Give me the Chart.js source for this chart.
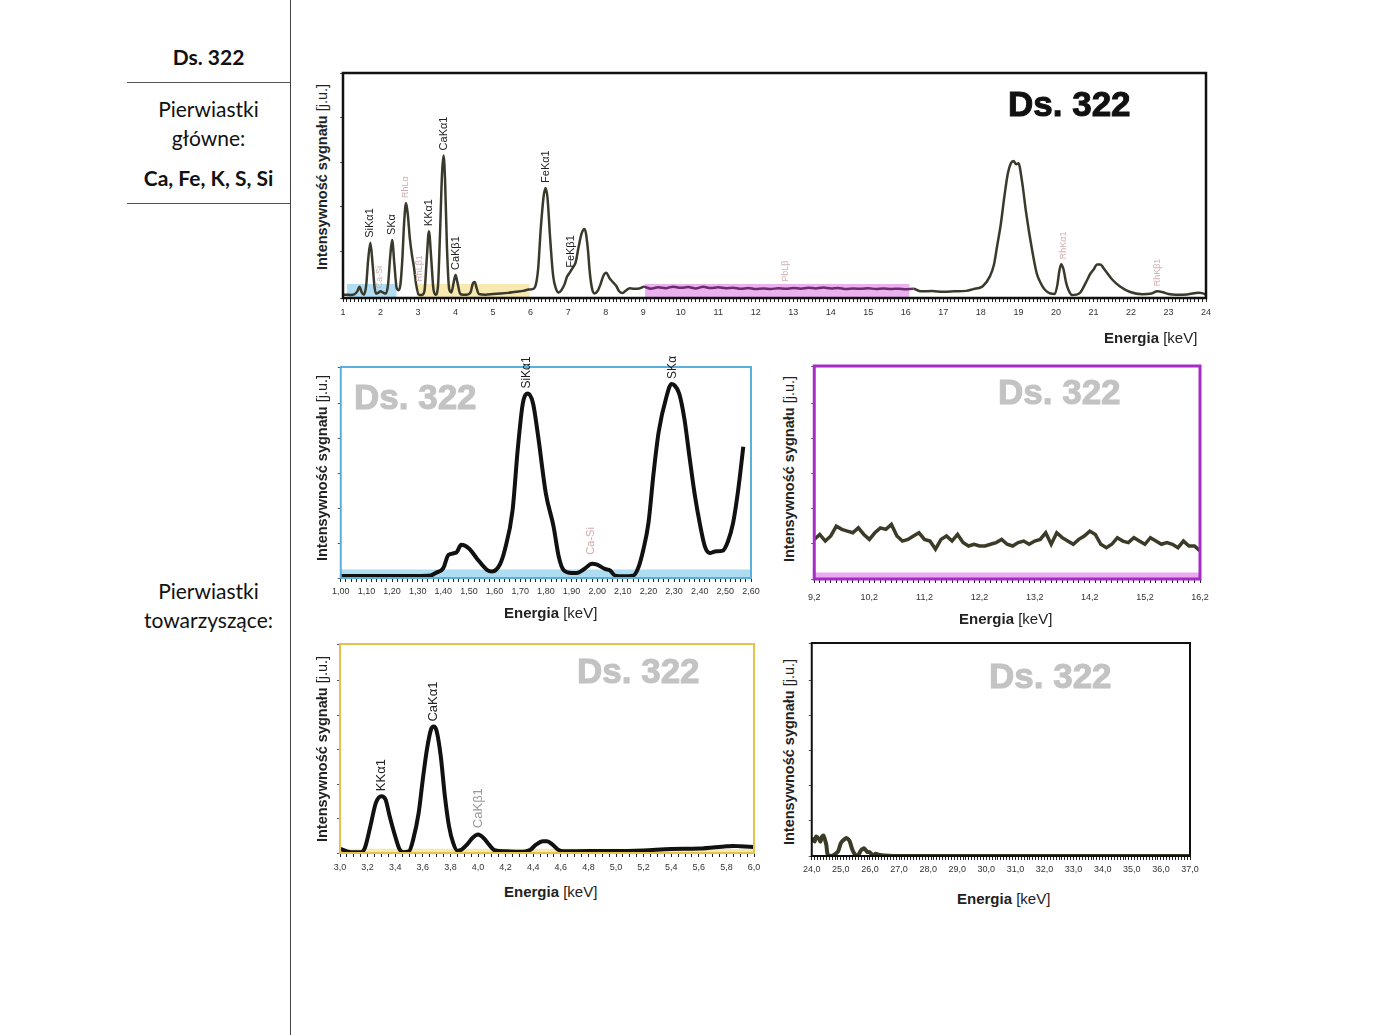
<!DOCTYPE html>
<html lang="pl">
<head>
<meta charset="utf-8">
<title>Ds. 322</title>
<script src="https://cdn.jsdelivr.net/npm/chart.js@4.4.1/dist/chart.umd.min.js"></script>
<style>
    html, body { margin: 0; padding: 0; background: #fff; }
    #page { position: relative; width: 1400px; height: 1035px; overflow: hidden; font-family: Lato, "Open Sans", sans-serif; color: #111; }
    .wrap { position: absolute; }
    .side { position: absolute; left: 127px; width: 163px; height: 26px; line-height: 26px; text-align: center; font-size: 21px; }
    .hr { position: absolute; left: 127px; width: 163px; height: 0; border-top: 1px solid #555; }
    .vr { position: absolute; left: 290px; top: 0; width: 0; height: 1035px; border-left: 1px solid #444; }
    .ytitle { position: absolute; transform: translate(-50%, -50%) rotate(-90deg); white-space: nowrap; font-family: "Liberation Sans", Arial, sans-serif; font-size: 14.5px; color: #222; }
    .xtitle { position: absolute; height: 18px; line-height: 18px; white-space: nowrap; font-family: "Liberation Sans", Arial, sans-serif; font-size: 15px; color: #222; }
    .mark { position: absolute; height: 36px; line-height: 36px; white-space: nowrap; font-family: "Liberation Sans", Arial, sans-serif; font-weight: bold; font-size: 35px; color: #c3c3c3; -webkit-text-stroke: 1px #c3c3c3; }
</style>
</head>
<body>
<div id="page">
    <div class="side" style="top:44px;font-weight:bold">Ds. 322</div>
    <div class="hr" style="top:82px"></div>
    <div class="side" style="top:96px">Pierwiastki</div>
    <div class="side" style="top:125px">główne:</div>
    <div class="side" style="top:165px;font-weight:bold">Ca, Fe, K, S, Si</div>
    <div class="hr" style="top:203px"></div>
    <div class="side" style="top:578px">Pierwiastki</div>
    <div class="side" style="top:607px">towarzyszące:</div>
    <div class="vr"></div>

    <div class="wrap" style="left:330px;top:60px;width:890px;height:270px"><canvas id="chart-main"></canvas></div>
    <div class="wrap" style="left:328px;top:355px;width:440px;height:250px"><canvas id="chart-si"></canvas></div>
    <div class="wrap" style="left:799px;top:354px;width:420px;height:256px"><canvas id="chart-noise"></canvas></div>
    <div class="wrap" style="left:328px;top:632px;width:440px;height:250px"><canvas id="chart-kca"></canvas></div>
    <div class="wrap" style="left:799px;top:631px;width:420px;height:256px"><canvas id="chart-rh"></canvas></div>

    <div class="mark" style="left:1008px;top:86px;color:#111;-webkit-text-stroke:1px #111">Ds. 322</div>
    <div class="mark" style="left:354px;top:379px">Ds. 322</div>
    <div class="mark" style="left:998px;top:374px">Ds. 322</div>
    <div class="mark" style="left:577px;top:653px">Ds. 322</div>
    <div class="mark" style="left:989px;top:658px">Ds. 322</div>

    <div class="ytitle" style="left:322px;top:177px"><b>Intensywność sygnału</b> [j.u.]</div>
    <div class="ytitle" style="left:322px;top:468px"><b>Intensywność sygnału</b> [j.u.]</div>
    <div class="ytitle" style="left:789px;top:469px"><b>Intensywność sygnału</b> [j.u.]</div>
    <div class="ytitle" style="left:322px;top:749px"><b>Intensywność sygnału</b> [j.u.]</div>
    <div class="ytitle" style="left:789px;top:752px"><b>Intensywność sygnału</b> [j.u.]</div>

    <div class="xtitle" style="left:1104px;top:329px"><b>Energia</b> [keV]</div>
    <div class="xtitle" style="left:504px;top:604px"><b>Energia</b> [keV]</div>
    <div class="xtitle" style="left:959px;top:610px"><b>Energia</b> [keV]</div>
    <div class="xtitle" style="left:504px;top:883px"><b>Energia</b> [keV]</div>
    <div class="xtitle" style="left:957px;top:890px"><b>Energia</b> [keV]</div>
</div>

<script>
"use strict";

// --- full spectrum 1-24 keV ---
const mainEnergy = [
    1.00, 1.10, 1.20, 1.30, 1.38, 1.44, 1.50, 1.56, 1.62, 1.67,
    1.73, 1.79, 1.84, 1.88, 1.95, 2.00, 2.06, 2.14, 2.20, 2.26,
    2.31, 2.37, 2.43, 2.48, 2.53, 2.58, 2.63, 2.68, 2.73, 2.78,
    2.84, 2.89, 2.95, 3.02, 3.10, 3.17, 3.23, 3.29, 3.35, 3.41,
    3.47, 3.53, 3.58, 3.64, 3.68, 3.72, 3.77, 3.83, 3.89, 3.95,
    4.00, 4.05, 4.12, 4.20, 4.30, 4.40, 4.46, 4.51, 4.56, 4.62,
    4.80, 5.00, 5.20, 5.40, 5.60, 5.80, 5.95, 6.05, 6.12, 6.20,
    6.27, 6.35, 6.40, 6.45, 6.52, 6.60, 6.68, 6.75, 6.82, 6.90,
    6.97, 7.04, 7.12, 7.20, 7.28, 7.36, 7.44, 7.52, 7.58, 7.64,
    7.70, 7.78, 7.86, 7.94, 8.02, 8.10, 8.20, 8.28, 8.36, 8.45,
    8.55, 8.64, 8.75, 8.90, 9.02, 9.2, 9.4, 9.6, 9.8, 10.0,
    10.2, 10.4, 10.6, 10.8, 11.0, 11.2, 11.4, 11.6, 11.8, 12.0,
    12.2, 12.4, 12.6, 12.8, 13.0, 13.2, 13.4, 13.6, 13.8, 14.0,
    14.2, 14.4, 14.6, 14.8, 15.0, 15.2, 15.4, 15.6, 15.8, 16.0,
    16.2, 16.4, 16.7, 17.0, 17.3, 17.6, 17.8, 18.05, 18.24, 18.35,
    18.43, 18.53, 18.63, 18.72, 18.80, 18.87, 18.94, 19.00, 19.10, 19.20,
    19.35, 19.49, 19.60, 19.70, 19.85, 19.97, 20.04, 20.09, 20.14, 20.20,
    20.27, 20.33, 20.43, 20.55, 20.65, 20.80, 20.92, 21.00, 21.10, 21.18,
    21.30, 21.50, 21.70, 21.98, 22.30, 22.55, 22.70, 22.85, 23.00, 23.20,
    23.50, 23.80, 23.90, 24.00
];
const mainSignal = [
    0.5, 0.5, 0.4, 0.6, 2.0, 4.0, 1.5, 0.5, 5, 16,
    23.8, 14, 4, 1, 1.5, 2.0, 1.5, 1.0, 5, 18,
    25, 14, 3.5, 2.5, 5, 16, 33, 41.6, 36, 26,
    18, 13, 5, 0.5, 0.3, 2, 16, 29, 17, 3,
    0.5, 4, 25, 55, 63, 52, 22, 3, 1.5, 6,
    9.3, 6, 1, 0.5, 0.5, 1.5, 5.5, 6.2, 3.5, 0.8,
    0.5, 0.8, 1.0, 1.3, 1.8, 2.2, 2.8, 3.0, 4.0, 12,
    30, 45, 48.4, 44, 26, 9, 3, 1.5, 2.5, 5,
    8.5, 10.3, 12.5, 15, 22, 28, 30, 22, 10, 3,
    1, 2, 5, 9, 10.3, 8, 6, 4.5, 2, 1.2,
    2.5, 3.4, 3.2, 3.3, 4, 3.2, 3.8, 3.4, 4.1, 3.6,
    3.9, 3.3, 4.0, 3.5, 3.8, 3.4, 3.6, 3.1, 3.5, 3.0,
    3.3, 3.0, 3.4, 3.1, 3.5, 3.2, 3.6, 3.3, 3.7, 3.3,
    3.5, 3.0, 3.3, 3.1, 3.4, 3.0, 3.3, 3.0, 3.2, 2.9,
    3.1, 2.0, 2.1, 1.8, 2.0, 2.2, 3.0, 4.3, 8.7, 14,
    22, 32, 45, 55, 59.5, 60.5, 59, 59.5, 51, 38,
    22, 10, 5.5, 2.8, 1, 0.8, 5, 11, 14.2, 12,
    6, 2.8, 0.3, 0.5, 1.5, 6, 10, 11.7, 14, 14,
    11.7, 7.3, 4.3, 1.7, 0.7, 1.0, 2.0, 1.6, 0.8, 0.5,
    0.6, 1.4, 1.2, 0.5
];
const mainLineNames = ['SiKα1', 'SKα', 'KKα1', 'CaKα1', 'CaKβ1', 'FeKα1', 'FeKβ1'];
const mainLineEnergy = [1.73, 2.31, 3.29, 3.68, 4.00, 6.40, 7.07];
const mainLineBase = [23.8, 25, 29, 63, 9.3, 48.4, 10.3];
const mainFaintNames = ['RhLα', 'RhLβ1', 'Ca-Si', 'PbLβ', 'RhKα1', 'RhKβ1'];
const mainFaintEnergy = [2.67, 3.05, 1.98, 12.8, 20.2, 22.7];
const mainFaintBase = [41.6, 4, 1, 4, 14.2, 2];
// highlighted ranges shown in the zoomed panels
const bandSi = [1.10, 2.43];
const bandKCa = [2.97, 5.98];
const bandNoise = [9.05, 16.1];
const bandLevel = 5.3;

// --- Si / S region 1.0-2.6 keV ---
const siEnergy = [
    1.00, 1.10, 1.20, 1.30, 1.35, 1.37, 1.40, 1.42, 1.45, 1.47,
    1.50, 1.53, 1.57, 1.59, 1.62, 1.64, 1.67, 1.69, 1.71, 1.73,
    1.75, 1.77, 1.80, 1.83, 1.85, 1.87, 1.90, 1.92, 1.95, 1.98,
    2.00, 2.03, 2.05, 2.07, 2.10, 2.14, 2.16, 2.18, 2.20, 2.22,
    2.24, 2.27, 2.29, 2.30, 2.32, 2.34, 2.36, 2.38, 2.40, 2.42,
    2.44, 2.46, 2.49, 2.51, 2.53, 2.55, 2.57
];
const siSignal = [
    1, 1, 1, 1, 1.2, 2.4, 4.7, 11, 12, 15.7,
    14, 9.4, 3.9, 3.1, 6.3, 13.4, 32, 60.6, 82.7, 87.4,
    82.7, 67, 40, 24.4, 10.2, 3.6, 2.4, 2.4, 4.3, 6.8,
    6.3, 4.3, 3.6, 1.1, 0.8, 1.1, 4.7, 13.4, 26, 49.6,
    69.3, 85.8, 92, 91.5, 87.4, 75.6, 57.5, 40, 26, 15,
    11.8, 12.6, 13, 17.3, 26, 41.7, 62.2
];
const siNames = ['SiKα1', 'SKα'];
const siNameEnergy = [1.725, 2.295];
const siNameBase = [87.4, 92];
const siFaintNames = ['Ca-Si'];
const siFaintEnergy = [1.975];
const siFaintBase = [8.7];

// --- background 9.2-16.2 keV ---
const noiseEnergy = [
    9.2, 9.3, 9.4, 9.5, 9.6, 9.7, 9.8, 9.9, 10.0, 10.1,
    10.2, 10.3, 10.4, 10.5, 10.6, 10.7, 10.8, 10.9, 11.0, 11.1,
    11.2, 11.3, 11.4, 11.5, 11.6, 11.7, 11.8, 11.9, 12.0, 12.1,
    12.2, 12.3, 12.4, 12.5, 12.6, 12.7, 12.8, 12.9, 13.0, 13.1,
    13.2, 13.3, 13.4, 13.5, 13.6, 13.7, 13.8, 13.9, 14.0, 14.1,
    14.2, 14.3, 14.4, 14.5, 14.6, 14.7, 14.8, 14.9, 15.0, 15.1,
    15.2, 15.3, 15.4, 15.5, 15.6, 15.7, 15.8, 15.9, 16.0, 16.1,
    16.2
];
const noiseSignal = [
    18.6, 20.9, 17.8, 20.2, 24.8, 23.3, 22.5, 21.7, 24.0, 20.9,
    18.6, 21.7, 24.0, 23.3, 25.6, 20.2, 17.8, 18.6, 20.2, 21.7,
    18.6, 17.8, 14.0, 18.6, 20.2, 17.8, 20.9, 17.1, 15.5, 16.3,
    15.5, 15.5, 16.3, 17.1, 18.6, 16.3, 15.5, 17.1, 17.8, 16.3,
    17.8, 18.6, 21.7, 16.3, 21.7, 19.4, 17.8, 16.3, 18.6, 20.2,
    22.5, 20.9, 16.3, 14.7, 16.3, 19.4, 17.8, 17.1, 19.4, 17.8,
    16.3, 19.4, 17.8, 16.3, 17.1, 16.3, 14.7, 17.8, 15.5, 15.5,
    13.2
];

// --- K / Ca region 3.0-6.0 keV ---
const kcaEnergy = [
    3.00, 3.05, 3.10, 3.15, 3.18, 3.22, 3.26, 3.30, 3.33, 3.36,
    3.40, 3.43, 3.46, 3.50, 3.53, 3.57, 3.60, 3.63, 3.66, 3.68,
    3.70, 3.73, 3.76, 3.79, 3.82, 3.85, 3.88, 3.92, 3.96, 4.00,
    4.04, 4.08, 4.12, 4.20, 4.30, 4.38, 4.42, 4.47, 4.50, 4.54,
    4.58, 4.62, 4.80, 5.00, 5.20, 5.40, 5.60, 5.80, 5.85, 5.90,
    6.00
];
const kcaSignal = [
    2, 0.8, 0.3, 0.3, 2.4, 12.8, 24, 27.2, 25.6, 17.6,
    8, 2, 0.3, 0.8, 6.4, 19.2, 35.2, 49.6, 59.2, 60.5,
    58.4, 46.4, 27.2, 12.8, 4.8, 1.1, 1.6, 4, 7.2, 8.8,
    7.2, 4, 1.3, 0.8, 0.6, 1.6, 4, 5.6, 5.6, 4,
    1.6, 0.8, 0.9, 0.9, 1.2, 1.9, 2.1, 3.2, 3.4, 3.2,
    2.9
];
const kcaNames = ['KKα1', 'CaKα1'];
const kcaNameEnergy = [3.30, 3.675];
const kcaNameBase = [27.2, 60.5];
const kcaFaintNames = ['CaKβ1'];
const kcaFaintEnergy = [4.0];
const kcaFaintBase = [9.5];

// --- Rh K region 24-37 keV ---
const rhEnergy = [
    24.0, 24.1, 24.15, 24.25, 24.3, 24.35, 24.4, 24.5, 24.55, 24.7,
    24.9, 25.0, 25.1, 25.2, 25.3, 25.4, 25.5, 25.6, 25.7, 25.8,
    25.9, 26.0, 26.1, 26.2, 26.3, 26.5, 26.8, 37.0
];
const rhSignal = [
    8.4, 6.8, 9.2, 8, 6.8, 9, 9.6, 5.2, 0.5, 0,
    2, 6, 7.6, 8.4, 7, 2.8, 0.5, 0.5, 2.8, 3.6,
    2, 1.7, 0.3, 1.1, 0.6, 0.2, 0, 0
];

const FONT = '"Liberation Sans", Arial, sans-serif';

function toPoints(xs, ys) {
    return xs.map((x, i) => ({ x: x, y: ys[i] }));
}

function band(range, level, color) {
    return {
        data: [{ x: range[0], y: level }, { x: range[1], y: level }],
        fill: 'start',
        backgroundColor: color,
        borderWidth: 0,
        pointRadius: 0,
    };
}

function labelSet(names, xs, ys, color, size) {
    return names.map((t, i) => ({ text: t, x: xs[i], y: ys[i], color: color, size: size }));
}

// frame around the plot area + rotated peak names
function frameAndLabels(frameColor, frameWidth, labels) {
    return {
        id: 'frameAndLabels',
        afterDatasetsDraw(chart) {
            const { ctx, chartArea: a, scales: { x, y } } = chart;
            ctx.save();
            ctx.strokeStyle = frameColor;
            ctx.lineWidth = frameWidth;
            ctx.strokeRect(a.left, a.top, a.right - a.left, a.bottom - a.top);
            labels.forEach(l => {
                ctx.save();
                ctx.translate(x.getPixelForValue(l.x), y.getPixelForValue(l.y) - 5);
                ctx.rotate(-Math.PI / 2);
                ctx.font = l.size + 'px ' + FONT;
                ctx.fillStyle = l.color;
                ctx.textAlign = 'left';
                ctx.textBaseline = 'middle';
                ctx.fillText(l.text, 0, 0);
                ctx.restore();
            });
            ctx.restore();
        }
    };
}

function tickLabel(every, digits) {
    return function (value) {
        const k = (value - this.min) / every;
        return Math.abs(k - Math.round(k)) < 1e-6 ? value.toFixed(digits).replace('.', ',') : '';
    };
}

function spectrumOptions(c) {
    return {
        responsive: true,
        maintainAspectRatio: false,
        animation: false,
        layout: { padding: { top: c.padTop, right: c.padRight, left: 0, bottom: 0 } },
        plugins: {
            legend: { display: false },
            tooltip: { enabled: false },
        },
        elements: { point: { radius: 0 } },
        scales: {
            x: {
                type: 'linear',
                min: c.xMin,
                max: c.xMax,
                afterFit: s => { s.height = c.xHeight; },
                border: { display: false },
                grid: { drawOnChartArea: false, tickLength: 4, color: '#222' },
                ticks: {
                    stepSize: c.xStep,
                    autoSkip: false,
                    maxRotation: 0,
                    padding: c.labelPad,
                    color: '#333',
                    font: { family: FONT, size: 9 },
                    callback: tickLabel(c.labelEvery, c.digits),
                }
            },
            y: {
                min: c.yMin,
                max: 100,
                afterFit: s => { s.width = c.yWidth; },
                border: { display: false },
                grid: { drawOnChartArea: false, tickLength: 3, color: '#555' },
                ticks: { display: false, stepSize: c.yStep }
            }
        }
    };
}

new Chart(document.getElementById('chart-main').getContext('2d'), {
    type: 'line',
    data: {
        datasets: [
            {
                data: toPoints(mainEnergy, mainSignal),
                borderColor: '#3a3a2c',
                borderWidth: 2.5,
                cubicInterpolationMode: 'monotone',
                segment: {
                    borderColor: ctx => (ctx.p0.parsed.x >= 9.0 && ctx.p1.parsed.x <= 16.25 ? '#6b2d6b' : '#3a3a2c')
                },
                fill: false,
            },
            band(bandSi, bandLevel, 'rgba(150, 210, 238, 0.75)'),
            band(bandKCa, bandLevel, 'rgba(245, 226, 150, 0.75)'),
            band(bandNoise, bandLevel, 'rgba(230, 150, 236, 0.75)'),
        ]
    },
    options: spectrumOptions({
        padTop: 13, padRight: 14, xHeight: 32, yWidth: 13,
        xMin: 1, xMax: 24, xStep: 0.1, labelEvery: 1, digits: 0, labelPad: 5,
        yMin: -1, yStep: 20,
    }),
    plugins: [frameAndLabels('#111', 2.5,
        labelSet(mainLineNames, mainLineEnergy, mainLineBase, '#222', 11)
            .concat(labelSet(mainFaintNames, mainFaintEnergy, mainFaintBase, '#d2b0b0', 9)))]
});

new Chart(document.getElementById('chart-si').getContext('2d'), {
    type: 'line',
    data: {
        datasets: [
            {
                data: toPoints(siEnergy, siSignal),
                borderColor: '#111',
                borderWidth: 4,
                cubicInterpolationMode: 'monotone',
                fill: false,
            },
            band([1.0, 2.6], 4, 'rgba(160, 214, 238, 0.85)'),
        ]
    },
    options: spectrumOptions({
        padTop: 12, padRight: 17, xHeight: 27, yWidth: 12,
        xMin: 1.0, xMax: 2.6, xStep: 0.02, labelEvery: 0.1, digits: 2, labelPad: 4,
        yMin: 0, yStep: 16.5,
    }),
    plugins: [frameAndLabels('#5aafdc', 2,
        labelSet(siNames, siNameEnergy, siNameBase, '#222', 12)
            .concat(labelSet(siFaintNames, siFaintEnergy, siFaintBase, '#d6a8a8', 11)))]
});

new Chart(document.getElementById('chart-noise').getContext('2d'), {
    type: 'line',
    data: {
        datasets: [
            {
                data: toPoints(noiseEnergy, noiseSignal),
                borderColor: '#3b3b28',
                borderWidth: 3.5,
                tension: 0,
                fill: false,
            },
            band([9.2, 16.2], 3, 'rgba(232, 160, 238, 0.9)'),
        ]
    },
    options: spectrumOptions({
        padTop: 12, padRight: 19, xHeight: 31, yWidth: 12,
        xMin: 9.2, xMax: 16.2, xStep: 0.1, labelEvery: 1, digits: 1, labelPad: 9,
        yMin: 0, yStep: 16.5,
    }),
    plugins: [frameAndLabels('#a52cc4', 3, [])]
});

new Chart(document.getElementById('chart-kca').getContext('2d'), {
    type: 'line',
    data: {
        datasets: [
            {
                data: toPoints(kcaEnergy, kcaSignal),
                borderColor: '#111',
                borderWidth: 4,
                cubicInterpolationMode: 'monotone',
                fill: false,
            },
            band([3.0, 6.0], 2, 'rgba(245, 232, 170, 0.9)'),
        ]
    },
    options: spectrumOptions({
        padTop: 12, padRight: 14, xHeight: 29, yWidth: 12,
        xMin: 3.0, xMax: 6.0, xStep: 0.05, labelEvery: 0.2, digits: 1, labelPad: 5,
        yMin: 0, yStep: 16.5,
    }),
    plugins: [frameAndLabels('#e6c24a', 2,
        labelSet(kcaNames, kcaNameEnergy, kcaNameBase, '#222', 13)
            .concat(labelSet(kcaFaintNames, kcaFaintEnergy, kcaFaintBase, '#9a9a9a', 13)))]
});

new Chart(document.getElementById('chart-rh').getContext('2d'), {
    type: 'line',
    data: {
        datasets: [
            {
                data: toPoints(rhEnergy, rhSignal),
                borderColor: '#3b3b28',
                borderWidth: 4,
                tension: 0.2,
                fill: false,
            }
        ]
    },
    options: spectrumOptions({
        padTop: 12, padRight: 29, xHeight: 31, yWidth: 12,
        xMin: 24, xMax: 37, xStep: 0.1, labelEvery: 1, digits: 1, labelPad: 4,
        yMin: 0, yStep: 16.5,
    }),
    plugins: [frameAndLabels('#111', 2, [])]
});
</script>
</body>
</html>
